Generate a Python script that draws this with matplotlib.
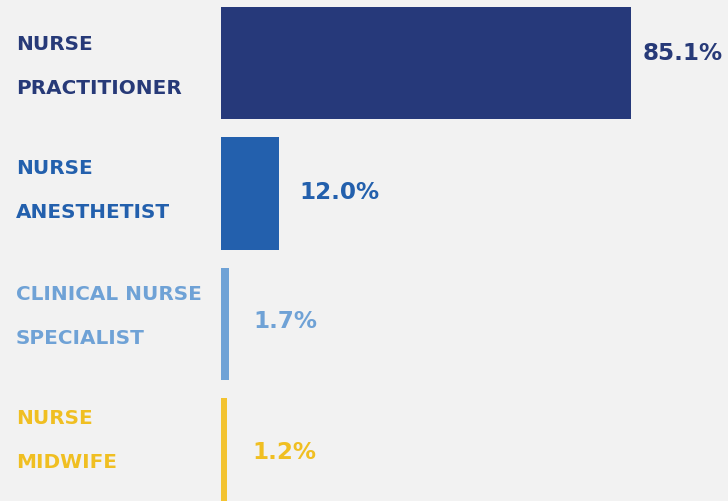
import matplotlib.pyplot as plt

# Data
categories = ["NURSE\nPRACTITIONER", "NURSE\nANESTHETIST", "CLINICAL NURSE\nSPECIALIST", "NURSE\nMIDWIFE"]
values = [85.1, 12.0, 1.7, 1.2]
value_labels = ["85.1%", "12.0%", "1.7%", "1.2%"]
colors = ["#26397a", "#2360ad", "#6fa2d6", "#f3c330"]
text_colors = ["#273a78", "#2360ad", "#6fa2d6", "#f0bf22"]

bg = "#f2f2f2"
fig = plt.figure(figsize=(7.28, 5.01), dpi=100, facecolor=bg)
ax = fig.add_axes([221 / 728, 0, 1 - 221 / 728, 1])
ax.set_facecolor(bg)

step = 130.5  # px between bar centres
pos = list(range(len(values)))
ax.barh(pos, values, height=0.86, color=colors)

ax.set_xlim(0, (728 - 221) / 410 * 85.1)
ax.set_ylim((501 - 63) / step, -63 / step)
ax.axis("off")

# value labels (offsets in points, tweaked by eye)
dx = [8.6, 15, 17.3, 18.7]
dy = [6.5, 0.5, 2, 1.5]
for i, (v, lab) in enumerate(zip(values, value_labels)):
    ax.annotate(lab, (v, i), xytext=(dx[i], dy[i]), textcoords="offset points",
                va="center", ha="left", fontsize=16.6, fontweight="bold",
                color=text_colors[i], family="DejaVu Sans")

# category labels on the left, outside the axes
for i, cat in enumerate(categories):
    y_pix = 66 + 125 * i
    top, bottom = cat.split("\n")
    fig.text(16 / 728, 1 - (y_pix - 22) / 501, top, ha="left", va="center",
             fontsize=14.4, fontweight="bold", color=text_colors[i], family="DejaVu Sans")
    fig.text(16 / 728, 1 - (y_pix + 22) / 501, bottom, ha="left", va="center",
             fontsize=14.4, fontweight="bold", color=text_colors[i], family="DejaVu Sans")

fig.savefig("out.png", dpi=100, facecolor=bg)
